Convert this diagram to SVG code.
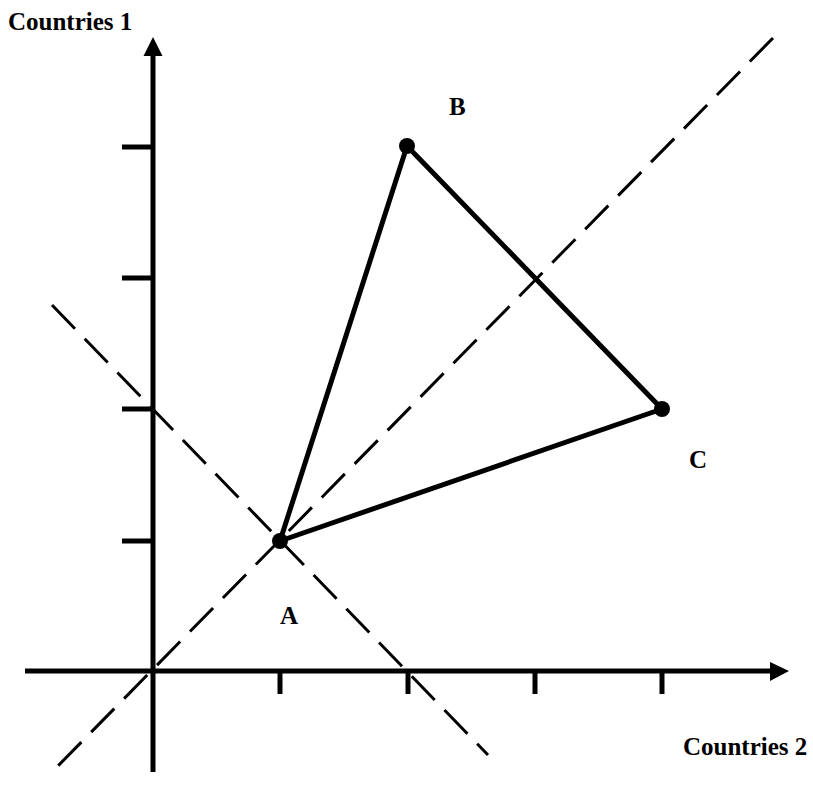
<svg xmlns="http://www.w3.org/2000/svg" width="813" height="796" viewBox="0 0 813 796">
<style>
.axis{stroke:#000;stroke-width:5;fill:none}
.tick{stroke:#000;stroke-width:5;fill:none}
.dash{stroke:#000;stroke-width:3;fill:none;stroke-dasharray:33 14}
.edge{stroke:#000;stroke-width:5;fill:none;stroke-linejoin:round}
.lbl{font-family:"Liberation Serif","Times New Roman",serif;font-weight:bold;font-size:25px;fill:#000}
</style>
<rect width="813" height="796" fill="#fff"/>
<g id="axes">
<line class="axis" x1="153" y1="52" x2="153" y2="772"/>
<polygon points="153,37 143.5,56 162.5,56" fill="#000"/>
<line class="axis" x1="25" y1="671" x2="773" y2="671"/>
<polygon points="789,671 770,662 770,681" fill="#000"/>
<line class="tick" x1="122" y1="541" x2="153" y2="541"/>
<line class="tick" x1="122" y1="409" x2="153" y2="409"/>
<line class="tick" x1="122" y1="278" x2="153" y2="278"/>
<line class="tick" x1="122" y1="147" x2="153" y2="147"/>
<line class="tick" x1="280" y1="671" x2="280" y2="694"/>
<line class="tick" x1="408" y1="671" x2="408" y2="694"/>
<line class="tick" x1="535" y1="671" x2="535" y2="694"/>
<line class="tick" x1="662" y1="671" x2="662" y2="694"/>
</g>
<g id="connectors">
<line class="dash" x1="773" y1="38" x2="52" y2="772"/>
<line class="dash" x1="52" y1="305" x2="488" y2="755"/>
<polyline class="edge" points="280,541 407,146 662,409 280,541"/>
</g>
<g id="A"><circle cx="280" cy="541" r="8" fill="#000"/><text class="lbl" x="280" y="624">A</text></g>
<g id="B"><circle cx="407" cy="146" r="8" fill="#000"/><text class="lbl" x="449" y="115">B</text></g>
<g id="C"><circle cx="662" cy="409" r="8" fill="#000"/><text class="lbl" x="689" y="468">C</text></g>
<g id="labels">
<text class="lbl" x="8" y="30">Countries 1</text>
<text class="lbl" x="683" y="755">Countries 2</text>
</g>
</svg>
